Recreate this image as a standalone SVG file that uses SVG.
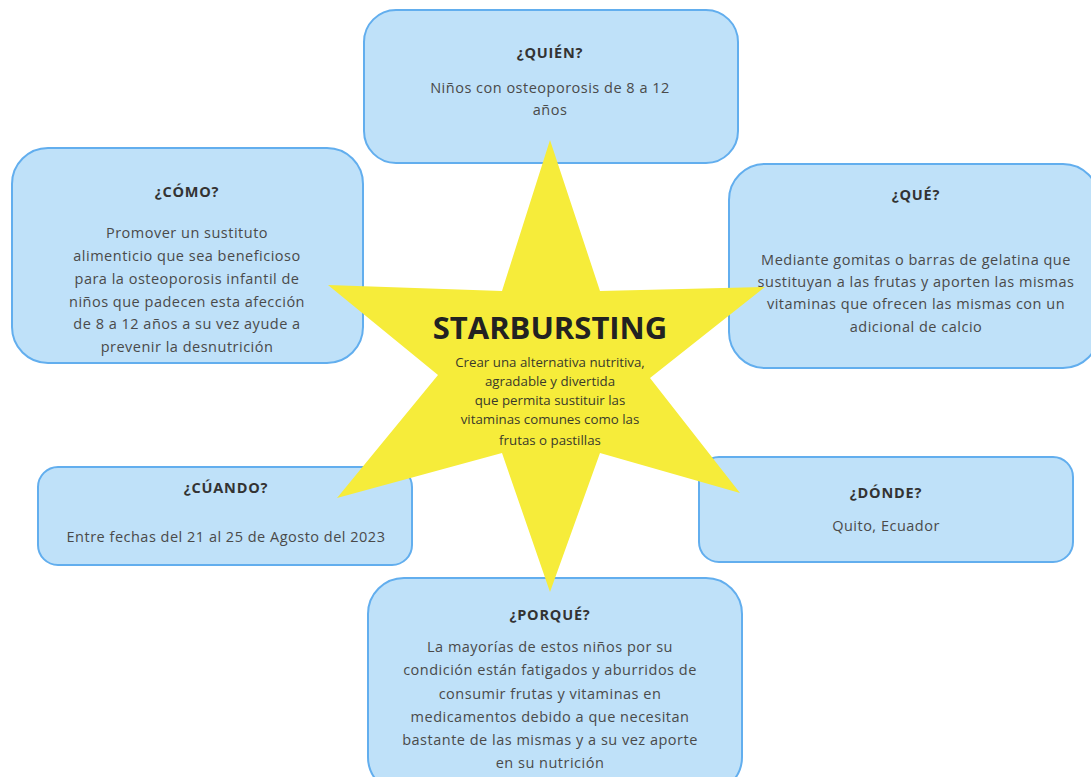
<svg xmlns="http://www.w3.org/2000/svg" width="1091" height="777" viewBox="0 0 1091 777">
<style>
.box{fill:#bfe1f9;stroke:#62aeee;stroke-width:2}
.t{font-family:"Open Sans","Liberation Sans",sans-serif;font-size:14.5px;font-weight:bold;fill:#333;text-anchor:middle;letter-spacing:0.8px}
.b{font-family:"Open Sans","Liberation Sans",sans-serif;font-size:14.5px;fill:#4a4a4a;text-anchor:middle;letter-spacing:0.5px}
.s{font-family:"Open Sans","Liberation Sans",sans-serif;font-size:13.3px;fill:#3a3a2a;text-anchor:middle}
</style>
<rect width="1091" height="777" fill="#ffffff"/>
<g id="quien">
<rect class="box" x="364" y="10" width="374" height="153" rx="32"/>
<text class="t" x="550" y="58">¿QUIÉN?</text>
<text class="b" x="550" y="93">Niños con osteoporosis de 8 a 12</text>
<text class="b" x="550" y="115">años</text>
</g>
<g id="como">
<rect class="box" x="12" y="148" width="351" height="215" rx="36"/>
<text class="t" x="187" y="197">¿CÓMO?</text>
<text class="b" x="187" y="238">Promover un sustituto</text>
<text class="b" x="187" y="261">alimenticio que sea beneficioso</text>
<text class="b" x="187" y="284">para la osteoporosis infantil de</text>
<text class="b" x="187" y="307">niños que padecen esta afección</text>
<text class="b" x="187" y="329">de 8 a 12 años a su vez ayude a</text>
<text class="b" x="187" y="352">prevenir la desnutrición</text>
</g>
<g id="que">
<rect class="box" x="729" y="164" width="370" height="204" rx="36"/>
<text class="t" x="916" y="200">¿QUÉ?</text>
<text class="b" x="916" y="265">Mediante gomitas o barras de gelatina que</text>
<text class="b" x="916" y="287">sustituyan a las frutas y aporten las mismas</text>
<text class="b" x="916" y="309">vitaminas que ofrecen las mismas con un</text>
<text class="b" x="916" y="332">adicional de calcio</text>
</g>
<g id="cuando">
<rect class="box" x="38" y="467" width="374" height="98" rx="20"/>
<text class="t" x="226" y="493">¿CÚANDO?</text>
<text class="b" x="226" y="542">Entre fechas del 21 al 25 de Agosto del 2023</text>
</g>
<g id="donde">
<rect class="box" x="699" y="457" width="374" height="105" rx="20"/>
<text class="t" x="886" y="498">¿DÓNDE?</text>
<text class="b" x="886" y="531">Quito, Ecuador</text>
</g>
<g id="porque">
<rect class="box" x="368" y="578" width="374" height="215" rx="36"/>
<text class="t" x="550" y="620">¿PORQUÉ?</text>
<text class="b" x="550" y="652">La mayorías de estos niños por su</text>
<text class="b" x="550" y="675">condición están fatigados y aburridos de</text>
<text class="b" x="550" y="699">consumir frutas y vitaminas en</text>
<text class="b" x="550" y="722">medicamentos debido a que necesitan</text>
<text class="b" x="550" y="745">bastante de las mismas y a su vez aporte</text>
<text class="b" x="550" y="768">en su nutrición</text>
</g>
<g id="connectors"></g>
<g id="star">
<polygon points="550,140 600,291 765,287 650,378 740,493 600,453 550,592 502,453 337,498 438,375 328,285 502,291" fill="#f6ec3a"/>
<text x="550" y="339" font-family="'Open Sans','Liberation Sans',sans-serif" font-size="31" font-weight="bold" fill="#222" text-anchor="middle">STARBURSTING</text>
<text class="s" x="550" y="367">Crear una alternativa nutritiva,</text>
<text class="s" x="550" y="386">agradable y divertida</text>
<text class="s" x="550" y="405">que permita sustituir las</text>
<text class="s" x="550" y="424">vitaminas comunes como las</text>
<text class="s" x="550" y="445">frutas o pastillas</text>
</g>
</svg>
